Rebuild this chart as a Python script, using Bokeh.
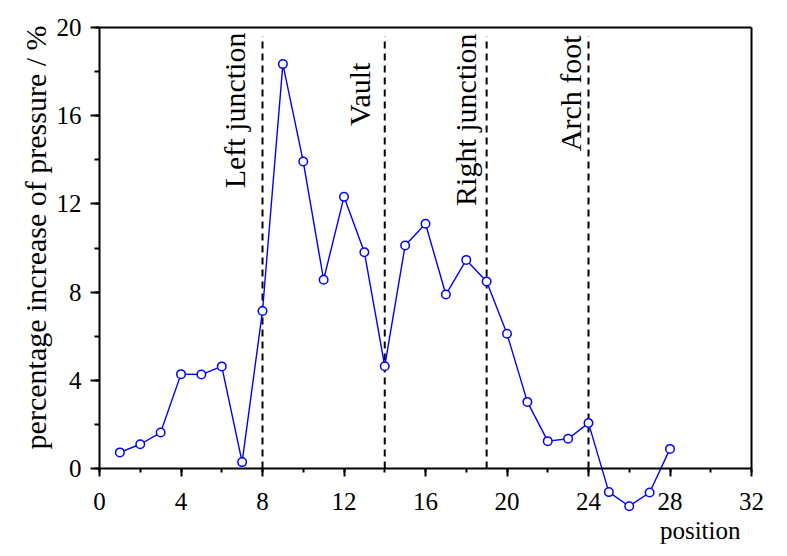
import math
from bokeh.plotting import figure
from bokeh.models import Range1d, LinearAxis, SingleIntervalTicker, FixedTicker, Label, ColumnDataSource
from bokeh.core.properties import value
from bokeh.embed import file_html
from bokeh.resources import INLINE

# ---- data ----
position = list(range(1, 29))
increase = [0.73, 1.10, 1.63, 4.28, 4.26, 4.63, 0.29, 7.14, 18.34, 13.92,
            8.56, 12.32, 9.81, 4.64, 10.11, 11.10, 7.89, 9.46, 8.48, 6.11,
            3.02, 1.24, 1.35, 2.06, -1.07, -1.71, -1.09, 0.89]

section_x = [8, 14, 19, 24]
section_names = ["Left junction", "Vault", "Right junction", "Arch foot"]
name_x = [6.62, 12.76, 17.96, 23.11]
name_top = [19.77, 18.41, 19.73, 19.64]
line_bottom = [0, 0, 0, 0]
line_top = [19.6, 19.6, 19.6, 19.6]

X_MIN, X_MAX = 0, 32
Y_MIN, Y_MAX = 0, 20

FONT = "Liberation Serif"
BLUE = "#0000ff"

W, H = 772, 548
p = figure(width=W, height=H,
           x_range=Range1d(-99 / 20.375, (W - 99) / 20.375),
           y_range=Range1d(-(H - 468) / 22.05, 20 + 27 / 22.05),
           output_backend="svg", toolbar_location=None,
           min_border=0)
p.outline_line_color = None
p.xgrid.visible = False
p.ygrid.visible = False
p.background_fill_color = "white"
p.border_fill_color = "white"


def style_ticks(ax, major, minor):
    ax.axis_line_width = 2
    ax.major_tick_line_width = 2
    ax.minor_tick_line_width = 2
    ax.major_tick_out = major
    ax.major_tick_in = 0
    ax.minor_tick_out = minor
    ax.minor_tick_in = 0
    ax.major_label_text_font = FONT
    ax.major_label_text_font_size = "25px"
    ax.major_label_text_color = "black"


# x axis at y = 0
xa = p.xaxis[0]
xa.fixed_location = 0
xa.ticker = SingleIntervalTicker(interval=4, num_minor_ticks=2)
xa.bounds = (X_MIN, X_MAX)
style_ticks(xa, 8, 4)
xa.major_label_standoff = 16

# y axis at x = 0
ya = p.yaxis[0]
ya.fixed_location = 0
ya.ticker = SingleIntervalTicker(interval=4, num_minor_ticks=2)
ya.bounds = (Y_MIN, Y_MAX)
style_ticks(ya, 9, 5)
ya.major_label_standoff = 9

top_ax = LinearAxis(ticker=FixedTicker(ticks=[]), bounds=(X_MIN, X_MAX),
                    fixed_location=Y_MAX,
                    axis_line_width=2, major_tick_out=0, minor_tick_out=0)
right_ax = LinearAxis(ticker=FixedTicker(ticks=[]), bounds=(Y_MIN, Y_MAX),
                      fixed_location=X_MAX,
                      axis_line_width=2, major_tick_out=0, minor_tick_out=0)
p.add_layout(top_ax, "above")
p.add_layout(right_ax, "right")

# section reference lines
p.segment(x0=section_x, y0=line_bottom, x1=section_x, y1=line_top,
          line_color="black", line_width=2, line_dash="7 5")

p.text(x=name_x, y=name_top, text=section_names, angle=math.pi / 2,
       text_align="right", text_baseline="alphabetic",
       text_font=value(FONT), text_font_size="30px", text_color="black")

# data series
src = ColumnDataSource(dict(x=position, y=increase))
p.line("x", "y", source=src, line_color=BLUE, line_width=1.4)
p.scatter("x", "y", source=src, marker="circle", size=8.5,
          fill_color="white", line_color=BLUE, line_width=1.5)

# axis titles
p.add_layout(Label(x=-3.14, y=10.48, text="percentage increase of pressure / %",
                   angle=math.pi / 2, text_align="center",
                   text_baseline="alphabetic", text_font=FONT,
                   text_font_size="30px", text_color="black"))
p.add_layout(Label(x=31.46, y=-2.8, text="position", text_align="right",
                   text_baseline="alphabetic", text_font=FONT,
                   text_font_size="25px", text_color="black"))

open("out.html", "w").write(file_html(p, INLINE))
